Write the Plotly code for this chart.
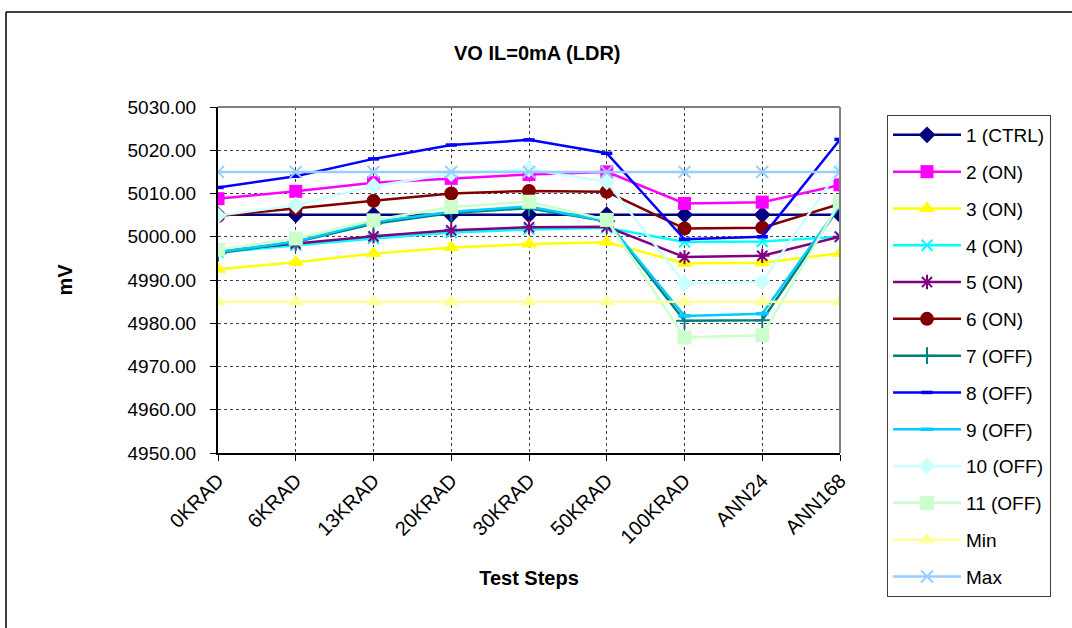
import plotly.graph_objects as go

categories = ["0KRAD", "6KRAD", "13KRAD", "20KRAD", "30KRAD", "50KRAD", "100KRAD", "ANN24", "ANN168"]

s1_ctrl = [5005.1, 5005.1, 5005.1, 5005.1, 5005.1, 5005.1, 5005.1, 5005.1, 5005.1]
s2_on = [5008.8, 5010.5, 5012.5, 5013.5, 5014.4, 5015.0, 5007.7, 5008.0, 5012.0]
s3_on = [4992.5, 4994.1, 4996.1, 4997.5, 4998.3, 4998.7, 4993.9, 4994.0, 4996.2]
s4_on = [4996.4, 4998.0, 4999.6, 5001.0, 5001.7, 5002.1, 4998.8, 4998.9, 5000.0]
s5_on = [4996.7, 4998.4, 5000.1, 5001.5, 5002.2, 5002.3, 4995.3, 4995.6, 5000.0]
s6_on = [5004.8, 5006.6, 5008.3, 5010.0, 5010.6, 5010.4, 5001.9, 5002.1, 5007.6]
s7_off = [4996.2, 4998.8, 5003.0, 5005.5, 5006.6, 5003.6, 4980.6, 4980.7, 5007.2]
s8_off = [5011.4, 5014.0, 5018.0, 5021.2, 5022.4, 5019.3, 4999.4, 5000.0, 5022.5]
s9_off = [4996.4, 4998.9, 5003.4, 5005.8, 5007.0, 5003.6, 4981.7, 4982.2, 5007.3]
s10_off = [5004.9, 5007.3, 5011.7, 5014.6, 5015.6, 5012.7, 4989.2, 4989.6, 5015.8]
s11_off = [4997.0, 4999.6, 5003.8, 5006.9, 5008.1, 5003.9, 4976.7, 4977.2, 5008.1]
min_lim = [4985, 4985, 4985, 4985, 4985, 4985, 4985, 4985, 4985]
max_lim = [5015, 5015, 5015, 5015, 5015, 5015, 5015, 5015, 5015]

series = [
    ("1 (CTRL)", s1_ctrl, "#000080", "diamond", 13),
    ("2 (ON)", s2_on, "#FF00FF", "square", 13),
    ("3 (ON)", s3_on, "#FFFF00", "triangle-up", 14),
    ("4 (ON)", s4_on, "#00FFFF", "x-thin", 11),
    ("5 (ON)", s5_on, "#800080", "asterisk", 12),
    ("6 (ON)", s6_on, "#800000", "circle", 14),
    ("7 (OFF)", s7_off, "#008080", "cross-thin", 12),
    ("8 (OFF)", s8_off, "#0000FF", "line-ew", 8),
    ("9 (OFF)", s9_off, "#00CCFF", "line-ew", 9),
    ("10 (OFF)", s10_off, "#CCFFFF", "diamond", 13),
    ("11 (OFF)", s11_off, "#CCFFCC", "square", 14),
    ("Min", min_lim, "#FFFF99", "triangle-up", 14),
    ("Max", max_lim, "#99CCFF", "x-thin", 12),
]

fig = go.Figure()
for name, vals, color, sym, size in series:
    thin = sym in ("x-thin", "asterisk", "cross-thin", "line-ew")
    lw = 3.5 if sym == "line-ew" else 2
    fig.add_trace(go.Scatter(
        x=categories, y=vals, name=name, mode="lines+markers",
        legendgroup=name,
        line=dict(color=color, width=2.5),
        marker=dict(symbol=sym, size=size, color=color,
                    line=dict(color=color, width=lw if thin else 0)),
    ))

L, R, T, B = 218, 840, 107, 453
W, H = 1072, 628
pw, ph = R - L, B - T

def px_x(p):
    return (p - L) / pw

def px_y(p):
    return (B - p) / ph

font_main = "Arial, Liberation Sans, sans-serif"

fig.update_layout(
    width=W, height=H,
    margin=dict(l=L, r=W - R, t=T, b=H - B, autoexpand=False),
    paper_bgcolor="white", plot_bgcolor="white",
    font=dict(family=font_main, size=19, color="black"),
    showlegend=True,
    legend=dict(
        x=px_x(887), y=px_y(115), xanchor="left", yanchor="top",
        bordercolor="#404040", borderwidth=1, bgcolor="white",
        font=dict(size=19, family=font_main, color="black"),
        traceorder="grouped", tracegroupgap=9.1,
        itemwidth=68, maxheight=600,
    ),
    xaxis=dict(
        type="category", range=[0, 8], showgrid=True,
        gridcolor="#404040", griddash="dot", gridwidth=1,
        showline=True, linecolor="black", linewidth=2,
        ticks="outside", ticklen=6, tickcolor="black", tickwidth=1,
        tickangle=-45, tickfont=dict(size=20),
        title=dict(text="<b>Test Steps</b>", font=dict(size=20), standoff=24),
        zeroline=False, automargin=False,
    ),
    yaxis=dict(
        range=[4950, 5030], dtick=10, tick0=4950, tickformat=".2f",
        showgrid=True, gridcolor="#404040", griddash="dot", gridwidth=1,
        showline=True, linecolor="black", linewidth=2,
        ticks="outside", ticklen=6, tickcolor="black", tickwidth=1,
        tickfont=dict(size=19), ticklabelstandoff=10,
        title=dict(text="<b>mV</b>", font=dict(size=20), standoff=50),
        zeroline=False, automargin=False,
    ),
    annotations=[
        dict(text="<b>VO IL=0mA (LDR)</b>", xref="paper", yref="paper",
             x=px_x(537), y=px_y(53), xanchor="center", yanchor="middle",
             showarrow=False, font=dict(size=20, color="black")),
    ],
    shapes=[
        dict(type="line", xref="paper", yref="paper",
             x0=px_x(L), x1=px_x(R), y0=1, y1=1,
             line=dict(color="#808080", width=2)),
        dict(type="line", xref="paper", yref="paper",
             x0=1, x1=1, y0=0, y1=1,
             line=dict(color="#808080", width=2)),
        dict(type="line", xref="paper", yref="paper",
             x0=px_x(6), x1=px_x(1080), y0=px_y(12), y1=px_y(12),
             line=dict(color="black", width=1.5)),
        dict(type="line", xref="paper", yref="paper",
             x0=px_x(6), x1=px_x(6), y0=px_y(12), y1=px_y(640),
             line=dict(color="black", width=1.5)),
    ],
)

fig.write_html("out.html")
